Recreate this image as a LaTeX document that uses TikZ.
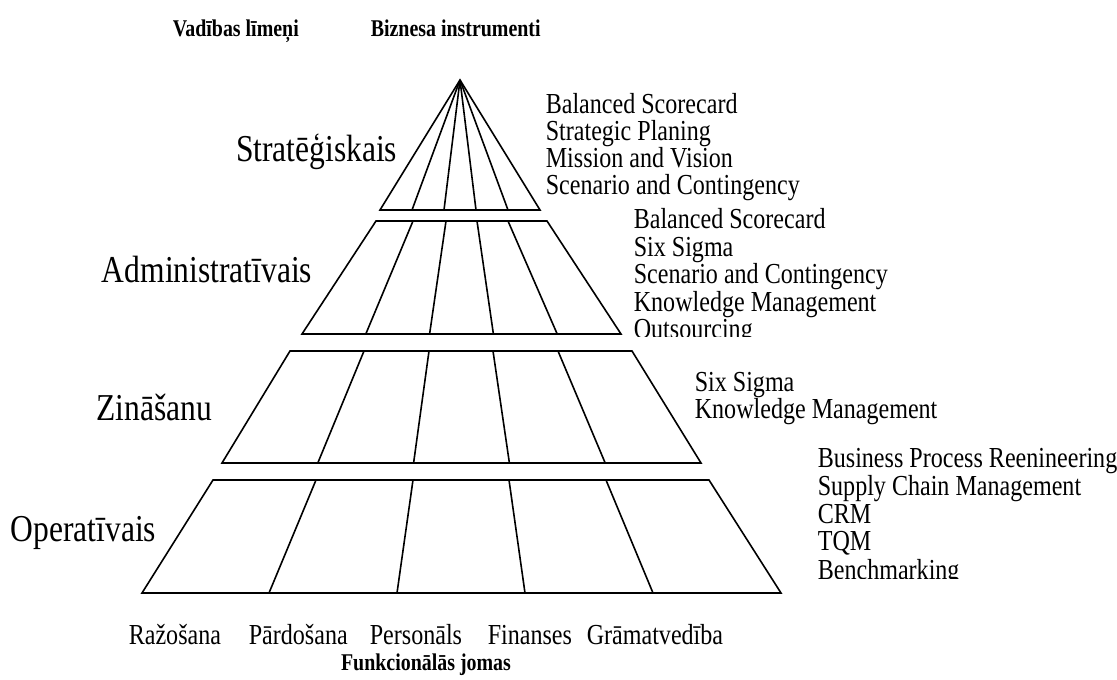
\documentclass[tikz,border=0pt]{standalone}
\usepackage{fontspec}
\setmainfont{Liberation Serif}[FakeStretch=0.83]
\begin{document}
\begin{tikzpicture}[x=1pt,y=-1pt,line width=1.6pt,line join=miter,
  lst/.style={anchor=base west,inner sep=0pt,font=\fontsize{29}{30}\selectfont},
  lvl/.style={anchor=base east,inner sep=0pt,font=\fontsize{38}{40}\selectfont},
  hdr/.style={anchor=base west,inner sep=0pt,font=\bfseries\fontsize{24}{26}\selectfont},
  fn/.style={anchor=base west,inner sep=0pt,font=\fontsize{29}{30}\selectfont}]
\useasboundingbox (0,0) rectangle (1117,680);
% headers
\node[hdr] (h1) at (172,36) {Vadības līmeņi};
\node[hdr] (h2) at (370,36) {Biznesa instrumenti};
% strategic triangle
\draw (380,210) -- (460,80) -- (540,210) -- cycle;
\foreach \x in {412,444,476,508} \draw (\x,210) -- (460,80);
% administrative
\draw (376,221) -- (547,221) -- (621,334) -- (302,334) -- cycle;
\draw (413,221) -- (365.8,334) (446,221) -- (429.6,334)
      (477,221) -- (493.4,334) (508,221) -- (557.2,334);
% knowledge
\draw (290,351) -- (632,351) -- (701,463) -- (222,463) -- cycle;
\draw (364,351) -- (317.8,463) (429,351) -- (413.6,463)
      (493,351) -- (509.4,463) (558,351) -- (605.2,463);
% operational
\draw (213,480) -- (709,480) -- (781,593) -- (142,593) -- cycle;
\draw (316,480) -- (269,593) (413,480) -- (397,593)
      (509,480) -- (525,593) (606,480) -- (653,593);
% level labels
\node[lvl] (l1) at (398,161) {Stratēģiskais};
\node[lvl] (l2) at (313,282) {Administratīvais};
\node[lvl] (l3) at (213,420) {Zināšanu};
\node[lvl] (l4) at (157,541) {Operatīvais};
% strategic tools
\node[lst] (s1) at (545,113) {Balanced Scorecard};
\node[lst] (s2) at (545,140) {Strategic Planing};
\node[lst] (s3) at (545,167) {Mission and Vision};
\node[lst] (s4) at (545,194) {Scenario and Contingency};
% administrative tools
\begin{scope}
\clip (600,200) rectangle (900,336);
\node[lst] (a1) at (633,228) {Balanced Scorecard};
\node[lst] (a2) at (633,256) {Six Sigma};
\node[lst] (a3) at (633,283) {Scenario and Contingency};
\node[lst] (a4) at (633,311) {Knowledge Management};
\node[lst] (a5) at (633,338) {Outsourcing};
\end{scope}
% knowledge tools
\node[lst] (k1) at (694,391) {Six Sigma};
\node[lst] (k2) at (694,418) {Knowledge Management};
% operational tools
\begin{scope}
\clip (800,440) rectangle (1117,578);
\node[lst] (o1) at (817,467) {Business Process Reenineering};
\node[lst] (o2) at (817,495) {Supply Chain Management};
\node[lst] (o3) at (817,523) {CRM};
\node[lst] (o4) at (817,550) {TQM};
\node[lst] (o5) at (817,579) {Benchmarking};
\end{scope}
% functional areas
\node[fn] (f1) at (128,644) {Ražošana};
\node[fn] (f2) at (248,644) {Pārdošana};
\node[fn] (f3) at (369,644) {Personāls};
\node[fn] (f4) at (487,644) {Finanses};
\node[fn] (f5) at (586,644) {Grāmatvedība};
\node[hdr,anchor=base] (ft) at (426,670) {Funkcionālās jomas};
\end{tikzpicture}
\end{document}
